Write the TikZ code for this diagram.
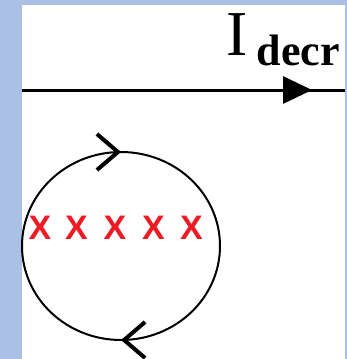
\documentclass[tikz,border=0pt]{standalone}
\usepackage{fontspec}
\setmainfont{Liberation Serif}
\newfontfamily\crossfont{Liberation Sans}
\usetikzlibrary{arrows.meta, decorations.markings, positioning}
\definecolor{slidebg}{RGB}{170,192,229}
\definecolor{crossred}{RGB}{237,28,36}
\tikzset{
  wire/.style={line width=3pt, draw=black},
  loopwire/.style={line width=2pt, draw=black},
  cross/.style={font=\crossfont\bfseries\fontsize{34}{34}\selectfont, text=crossred, inner sep=0pt},
  currentdir/.style={postaction={decorate}, decoration={markings,
      mark=at position #1 with {\arrow{Triangle[length=29pt,width=27pt]}}}},
  loopdir/.style={postaction={decorate}, decoration={markings,
      mark=at position 0.25 with {\arrow{Straight Barb[length=21pt,width=36pt,line width=4pt]}},
      mark=at position 0.75 with {\arrow{Straight Barb[length=21pt,width=36pt,line width=4pt]}}}}
}
\begin{document}
\begin{tikzpicture}[x=1pt, y=-1pt]
  \useasboundingbox (0,0) rectangle (347,359);
  \fill[slidebg] (0,0) rectangle (347,359);
  \fill[white] (22,5) rectangle (345,359);

  % wire with the decreasing current
  \coordinate (wireL) at (22,90);
  \coordinate (wireR) at (345,90);
  \draw[wire, currentdir=0.898] (wireL) -- (wireR);
  \node (curI) [anchor=base west, inner sep=0pt, font=\fontsize{64}{64}\selectfont] at (226,55) {I};
  \node (curSub) [anchor=base west, inner sep=0pt, font=\bfseries\fontsize{44}{44}\selectfont]
    at ([xshift=9pt, yshift=-10pt]curI.base east) {decr};

  % loop and field into the page
  \draw[loopwire, loopdir] (121,246) ellipse [x radius=99, y radius=94];
  \foreach \i/\cx in {1/40, 2/76.5, 3/115, 4/153.5, 5/191.5}
    \node (cross\i) [cross] at (\cx,227.5) {X};
\end{tikzpicture}
\end{document}
